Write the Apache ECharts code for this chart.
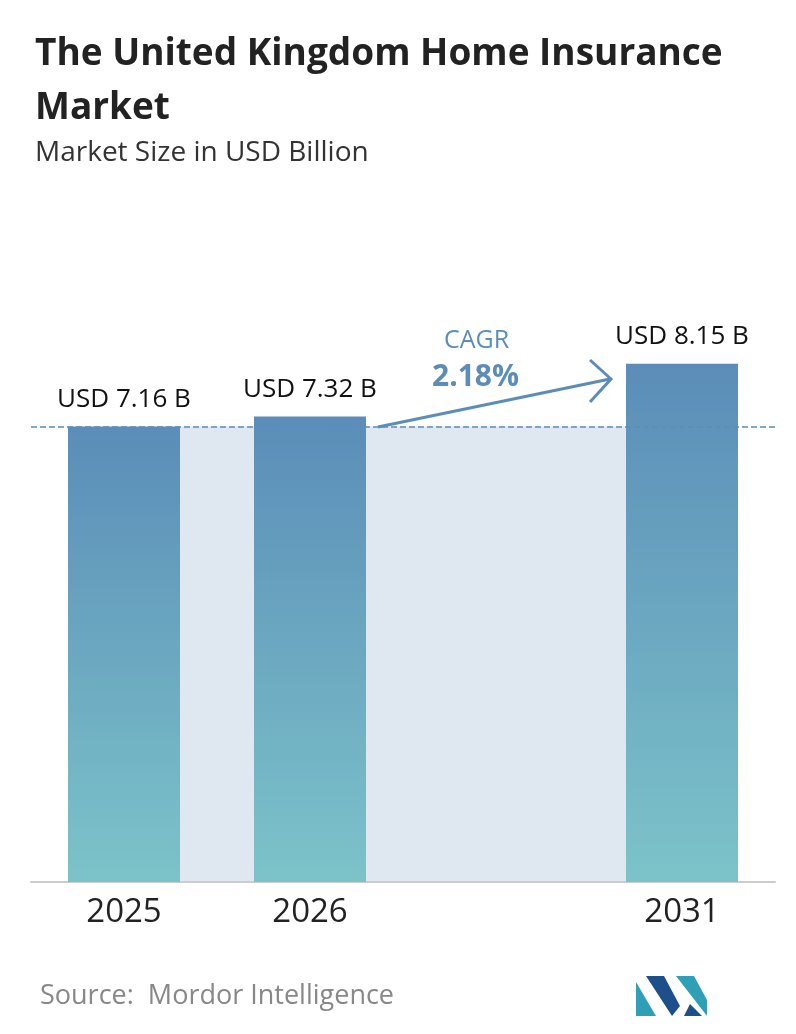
<!DOCTYPE html>
<html><head><meta charset="utf-8">
<script src="https://cdn.jsdelivr.net/npm/echarts@6/dist/echarts.min.js"></script>
<style>html,body{margin:0;padding:0;background:#fff}#c{width:796px;height:1034px}</style>
</head><body><div id="c"></div>
<script>
const categories = ['2025','2026','','2031'];
const values = [7.16, 7.32, null, 8.15];
const labels = ['USD 7.16 B','USD 7.32 B','','USD 8.15 B'];
const cagrText = '2.18%';
const F = '"Open Sans","Noto Sans",sans-serif';
const chart = echarts.init(document.getElementById('c'));
const baseOpt = {
  animation:false,
  grid:{left:31,right:21,top:246,bottom:152},
  title:[
    {text:'The United Kingdom Home Insurance\nMarket',left:30,top:22,textStyle:{fontFamily:F,fontSize:37,fontWeight:'bold',color:'#222',lineHeight:54}},
    {text:'Market Size in USD Billion',left:30,top:134,textStyle:{fontFamily:F,fontSize:28,fontWeight:'normal',color:'#333'}},
    {text:'Source:  Mordor Intelligence',left:35,top:978,textStyle:{fontFamily:F,fontSize:27,fontWeight:'normal',color:'#888'}}
  ],
  xAxis:{type:'category',data:categories,axisTick:{show:false},
    axisLine:{lineStyle:{color:'#cccccc',width:2}},
    axisLabel:{fontFamily:F,fontSize:33,color:'#222',margin:14}},
  yAxis:{type:'value',min:0,max:10,show:false,splitLine:{show:false}},
  series:[{type:'bar',data:values,barWidth:112,
    itemStyle:{color:new echarts.graphic.LinearGradient(0,0,0,1,[{offset:0,color:'#5b8db8'},{offset:1,color:'#7cc3c9'}])},
    label:{show:true,position:'top',distance:14,fontFamily:F,fontSize:26,color:'#111',fontWeight:500,
      formatter:p=>labels[p.dataIndex]},
    markLine:{silent:true,symbol:'none',label:{show:false},lineStyle:{type:'dashed',color:'#5b8db8',width:1.5},
      data:[{yAxis:values[0]}]},
    z:3
  }]
};
chart.setOption(baseOpt);
const p0 = chart.convertToPixel({xAxisIndex:0,yAxisIndex:0},[0,0]);
const p1 = chart.convertToPixel({xAxisIndex:0,yAxisIndex:0},[3,values[0]]);
const half = 56;
chart.setOption({graphic:[
    {type:'rect',z:-1,shape:{x:p0[0]+half,y:p1[1],width:(p1[0]-half)-(p0[0]+half),height:p0[1]-p1[1]},style:{fill:'#dfe8f1'}},
    {type:'line',shape:{x1:378,y1:427,x2:610,y2:379},style:{stroke:'#5b8db8',lineWidth:3}},
    {type:'polyline',shape:{points:[[590,360],[611,379],[590,402]]},style:{stroke:'#5b8db8',lineWidth:3,fill:null}},
    {type:'text',left:444,top:328,style:{text:'CAGR',font:'25px '+F,fill:'#5b8db8'}},
    {type:'text',left:432,top:362,style:{text:cagrText,font:'bold 30px '+F,fill:'#5b8db8'}},
    {type:'polygon',shape:{points:[[636,1016],[636,982],[656,1016]]},style:{fill:'#2f9fb5'}},
    {type:'polygon',shape:{points:[[646,976],[664,976],[680,1006],[672,1016]]},style:{fill:'#1d4f8a'}},
    {type:'polygon',shape:{points:[[676,976],[694,976],[707,1000],[707,1016]]},style:{fill:'#2f9fb5'}},
    {type:'polygon',shape:{points:[[684,1016],[690,1004],[702,1016]]},style:{fill:'#1d4f8a'}}
]});
</script></body></html>
